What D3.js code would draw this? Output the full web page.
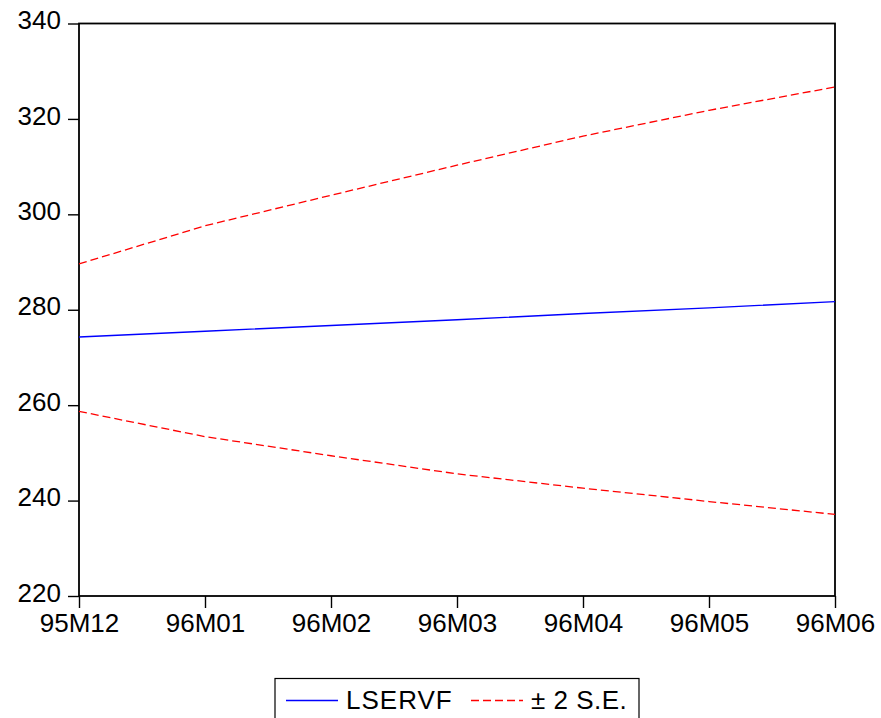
<!DOCTYPE html>
<html>
<head>
<meta charset="utf-8">
<script src="https://cdn.jsdelivr.net/npm/d3@7"></script>
<style>
  html, body { margin: 0; padding: 0; background: #fff; }
  svg { display: block; font-family: "Liberation Sans", Arial, sans-serif; }
</style>
</head>
<body>
<svg id="chart" width="881" height="718"></svg>
<script>
const categories = ["95M12", "96M01", "96M02", "96M03", "96M04", "96M05", "96M06"];
const lservf = [274.3, 275.5, 276.7, 277.9, 279.2, 280.4, 281.7];
const upperSE = [289.6, 297.6, 304.0, 310.3, 316.4, 321.8, 326.7];
const lowerSE = [258.7, 253.4, 249.4, 245.6, 242.6, 239.8, 237.1];
const yTicks = [220, 240, 260, 280, 300, 320, 340];
const legendLabels = ["LSERVF", "± 2 S.E."];

const svg = d3.select("#chart");
const L = 79, R = 835, T = 23.5, B = 596;

const x = d3.scalePoint().domain(categories).range([L, R]);
const y = d3.scaleLinear().domain([220, 340]).range([B, T]);

// frame
svg.append("rect")
  .attr("x", L).attr("y", T).attr("width", R - L).attr("height", B - T)
  .attr("fill", "none").attr("stroke", "#000").attr("stroke-width", 1.8);

// y axis
const yAxis = d3.axisLeft(y).tickValues(yTicks).tickSize(11).tickPadding(7).tickFormat(d3.format("d"));
const gy = svg.append("g").attr("transform", `translate(${L},0)`).call(yAxis);
gy.select(".domain").remove();
gy.selectAll("line").attr("stroke", "#000").attr("stroke-width", 1.4);
gy.selectAll("text").attr("font-size", 26).attr("fill", "#000").attr("dy", "0.2em")
  .attr("font-family", "'Liberation Sans', Arial, sans-serif");

// x axis
const xAxis = d3.axisBottom(x).tickSize(12).tickPadding(6);
const gx = svg.append("g").attr("transform", `translate(0,${B})`).call(xAxis);
gx.select(".domain").remove();
gx.selectAll("line").attr("stroke", "#000").attr("stroke-width", 1.4);
gx.selectAll("text").attr("font-size", 26).attr("fill", "#000")
  .attr("font-family", "'Liberation Sans', Arial, sans-serif");

const line = d3.line().x((d, i) => x(categories[i])).y(d => y(d));

svg.append("path").datum(upperSE).attr("d", line)
  .attr("fill", "none").attr("stroke", "#ff0000").attr("stroke-width", 1.3)
  .attr("stroke-dasharray", "8,4");
svg.append("path").datum(lowerSE).attr("d", line)
  .attr("fill", "none").attr("stroke", "#ff0000").attr("stroke-width", 1.3)
  .attr("stroke-dasharray", "8,4");
svg.append("path").datum(lservf).attr("d", line)
  .attr("fill", "none").attr("stroke", "#0000ff").attr("stroke-width", 1.4);

// legend
const lg = svg.append("g");
lg.append("rect").attr("x", 275).attr("y", 678.5).attr("width", 364).attr("height", 50)
  .attr("fill", "#fff").attr("stroke", "#000").attr("stroke-width", 1.2);
lg.append("line").attr("x1", 286).attr("x2", 338).attr("y1", 700.5).attr("y2", 700.5)
  .attr("stroke", "#0000ff").attr("stroke-width", 1.4);
lg.append("text").attr("x", 346).attr("y", 709).attr("font-size", 26)
  .attr("letter-spacing", 1).text(legendLabels[0]);
lg.append("line").attr("x1", 471).attr("x2", 523).attr("y1", 700.5).attr("y2", 700.5)
  .attr("stroke", "#ff0000").attr("stroke-width", 1.3).attr("stroke-dasharray", "8,4");
lg.append("text").attr("x", 531).attr("y", 709).attr("font-size", 26)
  .attr("letter-spacing", 0.5).text(legendLabels[1]);
</script>
</body>
</html>
